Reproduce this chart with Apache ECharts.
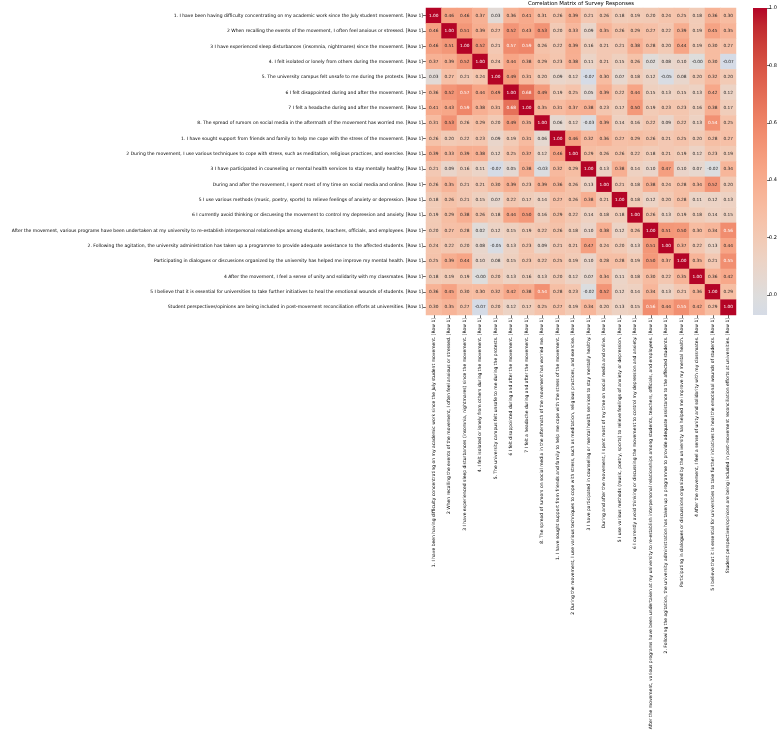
<!DOCTYPE html>
<html>
<head>
<meta charset="utf-8">
<script src="https://cdn.jsdelivr.net/npm/echarts@6/dist/echarts.min.js"></script>
<style>
  html, body { margin: 0; padding: 0; background: #fff; }
  #chart { width: 780px; height: 741px; }
</style>
</head>
<body>
<div id="chart"></div>
<script>
// survey items (same order on both axes)
const questions = [
  "1. I have been having difficulty concentrating on my academic work since the July student movement. [Row 1]",
  "2 When recalling the events of the movement, I often feel anxious or stressed. [Row 1]",
  "3 I have experienced sleep disturbances (insomnia, nightmares) since the movement. [Row 1]",
  "4. I felt isolated or lonely from others during the movement. [Row 1]",
  "5. The university campus felt unsafe to me during the protests. [Row 1]",
  "6 I felt disappointed during and after the movement. [Row 1]",
  "7 I felt a headache during and after the movement. [Row 1]",
  "8. The spread of rumors on social media in the aftermath of the movement has worried me. [Row 1]",
  "1. I have sought support from friends and family to help me cope with the stress of the movement. [Row 1]",
  "2 During the movement, I use various techniques to cope with stress, such as meditation, religious practices, and exercise. [Row 1]",
  "3 I have participated in counseling or mental health services to stay mentally healthy. [Row 1]",
  "During and after the movement, I spent most of my time on social media and online. [Row 1]",
  "5 I use various methods (music, poetry, sports) to relieve feelings of anxiety or depression. [Row 1]",
  "6 I currently avoid thinking or discussing the movement to control my depression and anxiety. [Row 1]",
  "After the movement, various programs have been undertaken at my university to re-establish interpersonal relationships among students, teachers, officials, and employees. [Row 1]",
  "2. Following the agitation, the university administration has taken up a programme to provide adequate assistance to the affected students. [Row 1]",
  "Participating in dialogues or discussions organized by the university has helped me improve my mental health. [Row 1]",
  "4 After the movement, I feel a sense of unity and solidarity with my classmates. [Row 1]",
  "5 I believe that it is essential for universities to take further initiatives to heal the emotional wounds of students. [Row 1]",
  "Student perspectives/opinions are being included in post-movement reconciliation efforts at universities. [Row 1]"
];

// correlation values, one row per item
const corr = [
  [1.00, 0.46, 0.46, 0.37, 0.03, 0.36, 0.41, 0.31, 0.26, 0.39, 0.21, 0.26, 0.18, 0.19, 0.20, 0.24, 0.25, 0.18, 0.36, 0.30],
  [0.46, 1.00, 0.51, 0.39, 0.27, 0.52, 0.43, 0.53, 0.20, 0.33, 0.09, 0.35, 0.26, 0.29, 0.27, 0.22, 0.39, 0.19, 0.45, 0.35],
  [0.46, 0.51, 1.00, 0.52, 0.21, 0.57, 0.59, 0.26, 0.22, 0.39, 0.16, 0.21, 0.21, 0.38, 0.28, 0.20, 0.44, 0.19, 0.30, 0.27],
  [0.37, 0.39, 0.52, 1.00, 0.24, 0.44, 0.38, 0.29, 0.23, 0.38, 0.11, 0.21, 0.15, 0.26, 0.02, 0.08, 0.10, -0.004, 0.30, -0.07],
  [0.03, 0.27, 0.21, 0.24, 1.00, 0.49, 0.31, 0.20, 0.09, 0.12, -0.07, 0.30, 0.07, 0.18, 0.12, -0.05, 0.08, 0.20, 0.32, 0.20],
  [0.36, 0.52, 0.57, 0.44, 0.49, 1.00, 0.68, 0.49, 0.19, 0.25, 0.05, 0.39, 0.22, 0.44, 0.15, 0.13, 0.15, 0.13, 0.42, 0.12],
  [0.41, 0.43, 0.59, 0.38, 0.31, 0.68, 1.00, 0.35, 0.31, 0.37, 0.38, 0.23, 0.17, 0.50, 0.19, 0.23, 0.23, 0.16, 0.38, 0.17],
  [0.31, 0.53, 0.26, 0.29, 0.20, 0.49, 0.35, 1.00, 0.06, 0.12, -0.03, 0.39, 0.14, 0.16, 0.22, 0.09, 0.22, 0.13, 0.54, 0.25],
  [0.26, 0.20, 0.22, 0.23, 0.09, 0.19, 0.31, 0.06, 1.00, 0.46, 0.32, 0.36, 0.27, 0.29, 0.26, 0.21, 0.25, 0.20, 0.28, 0.27],
  [0.39, 0.33, 0.39, 0.38, 0.12, 0.25, 0.37, 0.12, 0.46, 1.00, 0.29, 0.26, 0.26, 0.22, 0.18, 0.21, 0.19, 0.12, 0.23, 0.19],
  [0.21, 0.09, 0.16, 0.11, -0.07, 0.05, 0.38, -0.03, 0.32, 0.29, 1.00, 0.13, 0.38, 0.14, 0.10, 0.47, 0.10, 0.07, -0.02, 0.34],
  [0.26, 0.35, 0.21, 0.21, 0.30, 0.39, 0.23, 0.39, 0.36, 0.26, 0.13, 1.00, 0.21, 0.18, 0.38, 0.24, 0.28, 0.34, 0.52, 0.20],
  [0.18, 0.26, 0.21, 0.15, 0.07, 0.22, 0.17, 0.14, 0.27, 0.26, 0.38, 0.21, 1.00, 0.18, 0.12, 0.20, 0.28, 0.11, 0.12, 0.13],
  [0.19, 0.29, 0.38, 0.26, 0.18, 0.44, 0.50, 0.16, 0.29, 0.22, 0.14, 0.18, 0.18, 1.00, 0.26, 0.13, 0.19, 0.18, 0.14, 0.15],
  [0.20, 0.27, 0.28, 0.02, 0.12, 0.15, 0.19, 0.22, 0.26, 0.18, 0.10, 0.38, 0.12, 0.26, 1.00, 0.51, 0.50, 0.30, 0.34, 0.56],
  [0.24, 0.22, 0.20, 0.08, -0.05, 0.13, 0.23, 0.09, 0.21, 0.21, 0.47, 0.24, 0.20, 0.13, 0.51, 1.00, 0.37, 0.22, 0.13, 0.44],
  [0.25, 0.39, 0.44, 0.10, 0.08, 0.15, 0.23, 0.22, 0.25, 0.19, 0.10, 0.28, 0.28, 0.19, 0.50, 0.37, 1.00, 0.35, 0.21, 0.55],
  [0.18, 0.19, 0.19, -0.004, 0.20, 0.13, 0.16, 0.13, 0.20, 0.12, 0.07, 0.34, 0.11, 0.18, 0.30, 0.22, 0.35, 1.00, 0.36, 0.42],
  [0.36, 0.45, 0.30, 0.30, 0.32, 0.42, 0.38, 0.54, 0.28, 0.23, -0.02, 0.52, 0.12, 0.14, 0.34, 0.13, 0.21, 0.36, 1.00, 0.29],
  [0.30, 0.35, 0.27, -0.07, 0.20, 0.12, 0.17, 0.25, 0.27, 0.19, 0.34, 0.20, 0.13, 0.15, 0.56, 0.44, 0.55, 0.42, 0.29, 1.00]
];

const colorbarTicks = [0.0, 0.2, 0.4, 0.6, 0.8, 1.0];
const valueMin = -0.07;
const valueMax = 1.0;

// upper half of matplotlib "coolwarm" (centered at 0)
const coolwarm = [
  "#d5dbe6", "#dddddd", "#e5d8d1", "#ecd3c5", "#f1ccb8", "#f5c4ac",
  "#f7bba0", "#f7b194", "#f7a687", "#f49a7b", "#f18d6f", "#ec7f63",
  "#e57058", "#de604d", "#d55042", "#cb3e38", "#c0282f", "#b40426"
];

const font = "DejaVu Sans";

const cells = [];
corr.forEach((row, y) => {
  row.forEach((v, x) => {
    cells.push({
      value: [x, y, v],
      label: { color: v >= 0.54 ? "#ffffff" : "#262626" }
    });
  });
});

const chart = echarts.init(document.getElementById("chart"));

const option = {
  animation: false,
  backgroundColor: "#fff",
  title: {
    text: "Correlation Matrix of Survey Responses",
    left: 581,
    top: 1,
    padding: 0,
    textAlign: "center",
    textStyle: { fontFamily: font, fontSize: 5.4, fontWeight: "normal", color: "#000" }
  },
  grid: [
    { left: 426, top: 8, width: 310, height: 307 },
    { left: 753, top: 8, width: 15, height: 307 }
  ],
  xAxis: [
    {
      type: "category",
      gridIndex: 0,
      data: questions,
      axisLine: { show: false },
      axisTick: { show: true, alignWithLabel: true, length: 3, lineStyle: { color: "#000", width: 0.6 } },
      axisLabel: { interval: 0, rotate: 90, margin: 3, fontSize: 4.5, fontFamily: font, color: "#000" },
      splitLine: { show: false }
    },
    {
      type: "category",
      gridIndex: 1,
      data: ["colorbar"],
      show: false
    }
  ],
  yAxis: [
    {
      type: "category",
      gridIndex: 0,
      inverse: true,
      data: questions,
      axisLine: { show: false },
      axisTick: { show: true, alignWithLabel: true, length: 3, lineStyle: { color: "#000", width: 0.6 } },
      axisLabel: { interval: 0, margin: 3, fontSize: 4.5, fontFamily: font, color: "#000" },
      splitLine: { show: false }
    },
    {
      type: "value",
      gridIndex: 1,
      position: "right",
      min: valueMin,
      max: valueMax,
      axisLine: { show: false },
      splitLine: { show: false },
      axisTick: { show: true, length: 3, customValues: colorbarTicks, lineStyle: { color: "#000", width: 0.6 } },
      axisLabel: {
        customValues: colorbarTicks,
        margin: 2,
        fontSize: 5,
        fontFamily: font,
        color: "#000",
        formatter: (v) => v.toFixed(1)
      }
    }
  ],
  visualMap: {
    type: "continuous",
    show: false,
    seriesIndex: 0,
    dimension: 2,
    min: valueMin,
    max: valueMax,
    inRange: { color: coolwarm }
  },
  series: [
    {
      type: "heatmap",
      xAxisIndex: 0,
      yAxisIndex: 0,
      data: cells,
      label: {
        show: true,
        fontSize: 4.3,
        fontFamily: font,
        formatter: (p) => p.value[2].toFixed(2)
      },
      emphasis: { disabled: true }
    },
    {
      type: "custom",
      xAxisIndex: 1,
      yAxisIndex: 1,
      data: [[0, valueMin, valueMax]],
      encode: { x: 0, y: [1, 2] },
      silent: true,
      renderItem: (params, api) => {
        const top = api.coord([0, api.value(2)]);
        const bottom = api.coord([0, api.value(1)]);
        const w = api.size([1, 0])[0];
        const stops = coolwarm.slice().reverse().map((c, i, a) => ({ offset: i / (a.length - 1), color: c }));
        return {
          type: "rect",
          shape: { x: top[0] - w / 2, y: top[1], width: w, height: bottom[1] - top[1] },
          style: { fill: new echarts.graphic.LinearGradient(0, 0, 0, 1, stops) }
        };
      }
    }
  ]
};

chart.setOption(option);
</script>
</body>
</html>
